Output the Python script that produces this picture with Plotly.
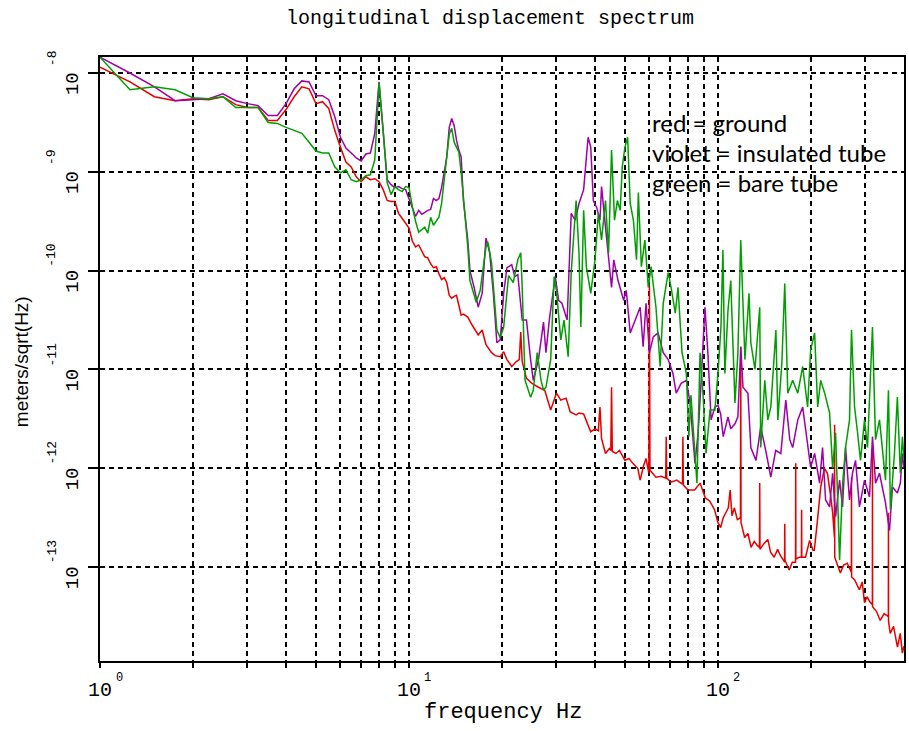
import numpy as np
import plotly.graph_objects as go

# ---------------- data (frequency in Hz, amplitude as log10 of meters/sqrt(Hz)) ----------------
ground_freq_hz = [1.0, 1.25, 1.5, 1.75, 2.0, 2.25, 2.5, 2.75, 3.0, 3.25, 3.5, 3.75, 4.0, 4.25, 4.5, 4.75,
                  5.0, 5.25, 5.5, 5.75, 6.0, 6.25, 6.5, 6.75, 7.0, 7.25, 7.5, 7.75, 8.0, 8.25, 8.5, 8.75,
                  9.0, 9.25, 9.5, 9.75, 10.0, 10.25, 10.5, 10.75, 11.0, 11.25, 11.5, 11.75, 12.0, 12.25,
                  12.5, 12.75, 13.0, 13.25, 13.5, 13.75, 14.0, 14.25, 14.5, 14.75, 15.0, 15.5, 16.0, 16.5,
                  16.75, 17.25, 17.75, 18.5, 19.0, 19.75, 20.25, 20.75, 21.5, 22.25, 22.75, 23.0, 23.25,
                  24.0, 25.0, 26.25, 27.5, 28.75, 30.0, 31.0, 32.25, 33.25, 34.75, 35.5, 36.75, 37.5,
                  38.75, 40.0, 41.0, 41.5, 42.0, 43.25, 44.5, 45.0, 45.25, 45.5, 46.75, 48.0, 50.0, 51.5,
                  53.0, 55.0, 56.0, 57.5, 58.5, 59.75, 60.0, 60.25, 61.5, 63.0, 65.5, 67.75, 68.0, 68.25,
                  70.5, 73.5, 76.75, 77.0, 77.25, 80.0, 84.0, 87.5, 91.0, 94.0, 97.5, 100.0, 102.0, 104.0,
                  106.0, 108.0, 109.5, 111.0, 113.0, 115.5, 118.25, 118.5, 118.75, 122.0, 125.0, 128.0,
                  131.0, 134.0, 136.25, 136.5, 136.75, 141.0, 145.0, 148.0, 152.0, 156.0, 159.0, 164.25,
                  164.5, 164.75, 170.0, 174.0, 178.25, 178.5, 178.75, 183.0, 186.25, 186.5, 186.75, 192.0,
                  198.0, 203.0, 205.0, 210.0, 215.0, 221.0, 226.0, 232.0, 235.0, 238.25, 238.5, 238.75,
                  245.0, 249.0, 255.0, 262.0, 270.25, 270.5, 270.75, 277.0, 287.0, 293.0, 298.0, 304.0,
                  310.0, 316.0, 316.25, 316.5, 326.0, 335.0, 345.0, 356.0, 356.25, 356.5, 361.0, 370.0,
                  381.0, 389.0, 395.0, 400.0]
ground_log10 = [-7.94, -8.09, -8.24, -8.28, -8.26, -8.27, -8.24, -8.32, -8.35, -8.35, -8.48, -8.48, -8.37,
                -8.24, -8.14, -8.16, -8.31, -8.29, -8.36, -8.58, -8.75, -8.90, -8.95, -9.05, -9.10, -9.05,
                -9.08, -9.07, -9.10, -9.18, -9.29, -9.30, -9.30, -9.42, -9.47, -9.52, -9.57, -9.70, -9.76,
                -9.74, -9.80, -9.86, -9.87, -9.93, -9.97, -9.96, -10.03, -10.09, -10.07, -10.12, -10.25,
                -10.28, -10.26, -10.25, -10.35, -10.45, -10.44, -10.47, -10.55, -10.62, -10.65, -10.60,
                -10.75, -10.83, -10.86, -10.87, -10.82, -10.90, -10.97, -10.92, -10.90, -10.62, -10.92,
                -11.09, -11.14, -11.18, -11.21, -11.41, -11.24, -11.31, -11.29, -11.43, -11.46, -11.44,
                -11.45, -11.52, -11.63, -11.60, -11.62, -11.38, -11.70, -11.85, -11.80, -11.82, -11.18,
                -11.83, -11.85, -11.82, -11.92, -11.90, -11.95, -12.00, -12.12, -11.97, -11.90, -12.05,
                -10.15, -12.02, -12.05, -12.09, -12.08, -12.10, -11.68, -12.10, -12.14, -12.12, -12.16,
                -11.68, -12.17, -12.22, -12.22, -12.15, -12.30, -12.33, -12.42, -12.55, -12.60, -12.50,
                -12.45, -12.40, -12.22, -12.48, -12.40, -12.52, -12.50, -10.77, -12.55, -12.70, -12.66,
                -12.80, -12.74, -12.78, -12.80, -12.15, -12.82, -12.76, -12.72, -12.85, -12.90, -12.82,
                -12.88, -12.95, -12.56, -12.93, -13.03, -12.95, -12.95, -11.95, -12.92, -12.90, -12.90,
                -12.42, -12.90, -12.90, -12.73, -12.83, -12.83, -12.52, -12.19, -12.00, -12.05, -12.30,
                -12.45, -12.70, -11.56, -12.90, -13.00, -13.06, -12.98, -12.96, -13.05, -12.09, -13.10,
                -13.13, -13.23, -13.15, -13.36, -13.30, -13.35, -13.38, -11.82, -13.40, -13.45, -13.54,
                -13.47, -13.50, -12.45, -13.55, -13.67, -13.60, -13.81, -13.67, -13.87, -13.80]

insulated_freq_hz = [1.0, 1.25, 1.5, 1.75, 2.0, 2.25, 2.5, 2.75, 3.0, 3.25, 3.5, 3.75, 4.0, 4.25, 4.5, 4.75,
                     5.0, 5.25, 5.5, 5.75, 6.0, 6.25, 6.5, 6.75, 7.0, 7.25, 7.5, 7.75, 8.0, 8.25, 8.5, 8.75,
                     9.0, 9.25, 9.5, 9.75, 10.0, 10.25, 10.5, 10.75, 11.0, 11.25, 11.5, 11.75, 12.0, 12.25,
                     12.5, 12.75, 13.0, 13.25, 13.5, 13.75, 14.0, 14.25, 14.5, 14.75, 15.0, 15.5, 15.75,
                     16.25, 16.75, 17.25, 17.75, 18.0, 18.25, 18.75, 19.25, 19.75, 20.25, 20.75, 21.5, 22.0,
                     22.5, 23.25, 24.0, 24.75, 25.25, 26.25, 27.25, 27.75, 28.5, 29.75, 30.5, 31.25, 32.5,
                     33.5, 34.5, 35.5, 36.75, 38.0, 38.75, 39.5, 40.5, 41.5, 42.0, 43.25, 44.25, 45.25, 46.0,
                     47.5, 49.5, 50.5, 52.0, 54.0, 56.0, 57.25, 58.5, 60.0, 61.75, 64.0, 66.5, 69.0, 71.5,
                     73.25, 76.0, 79.0, 81.25, 84.25, 86.25, 88.0, 90.75, 92.75, 95.0, 97.75, 100.0, 102.0,
                     104.0, 107.75, 110.0, 113.5, 116.0, 118.5, 120.5, 125.0, 127.75, 132.75, 137.5, 142.75,
                     148.25, 153.75, 159.75, 165.75, 170.75, 174.5, 181.25, 188.0, 195.0, 199.5, 205.5,
                     213.25, 218.0, 223.0, 229.75, 235.0, 240.25, 247.5, 253.0, 258.75, 266.5, 272.5, 278.75,
                     287.0, 298.0, 309.25, 316.25, 323.5, 333.25, 348.5, 359.0, 367.0, 380.75, 389.25, 395.25,
                     400.0]
insulated_log10 = [-7.84, -8.00, -8.14, -8.28, -8.27, -8.26, -8.21, -8.28, -8.31, -8.33, -8.43, -8.43, -8.31,
                   -8.16, -8.08, -8.09, -8.23, -8.23, -8.27, -8.44, -8.65, -8.76, -8.81, -8.86, -8.89, -8.82,
                   -8.81, -8.61, -8.09, -8.61, -9.08, -9.13, -9.16, -9.15, -9.17, -9.18, -9.27, -9.35, -9.45,
                   -9.39, -9.43, -9.41, -9.39, -9.38, -9.27, -9.29, -9.27, -9.16, -9.00, -8.85, -8.55, -8.46,
                   -8.53, -8.68, -8.78, -8.85, -9.29, -9.69, -10.00, -10.17, -10.37, -10.23, -9.67, -9.75,
                   -9.82, -10.23, -10.73, -10.70, -10.23, -9.97, -9.94, -10.06, -10.04, -10.50, -10.50,
                   -10.90, -11.11, -10.90, -10.52, -10.83, -10.48, -10.06, -10.30, -10.33, -10.50, -9.42,
                   -9.49, -9.32, -9.18, -8.65, -8.75, -9.29, -9.36, -9.49, -9.15, -9.56, -9.89, -10.17,
                   -9.89, -10.10, -10.30, -10.20, -10.63, -10.50, -10.37, -10.77, -10.33, -10.83, -10.67,
                   -10.63, -10.83, -10.90, -11.04, -11.24, -11.14, -11.11, -11.34, -11.95, -11.64, -11.18,
                   -10.37, -10.83, -11.51, -11.38, -11.36, -11.45, -11.68, -11.48, -11.60, -11.55, -11.48,
                   -10.77, -11.18, -11.24, -11.79, -11.92, -11.58, -11.82, -12.09, -11.82, -11.85, -11.31,
                   -11.71, -11.79, -11.51, -11.38, -11.79, -11.99, -11.85, -12.15, -11.79, -12.32, -12.39,
                   -12.05, -12.49, -12.12, -12.39, -11.79, -12.32, -12.05, -11.92, -12.39, -12.12, -12.29,
                   -11.68, -12.15, -12.05, -12.35, -12.63, -12.19, -12.25, -12.15, -11.85, -12.00]

bare_freq_hz = [1.0, 1.25, 1.5, 1.75, 2.0, 2.25, 2.5, 2.75, 3.0, 3.25, 3.5, 3.75, 4.0, 4.25, 4.5, 4.75,
                5.0, 5.25, 5.5, 5.75, 6.0, 6.25, 6.5, 6.75, 7.0, 7.25, 7.5, 7.75, 8.0, 8.25, 8.5, 8.75,
                9.0, 9.25, 9.5, 9.75, 10.0, 10.25, 10.5, 10.75, 11.0, 11.25, 11.5, 11.75, 12.0, 12.25,
                12.5, 12.75, 13.0, 13.25, 13.5, 13.75, 14.0, 14.25, 14.5, 14.75, 15.0, 15.5, 15.75,
                16.25, 16.5, 17.0, 17.75, 18.0, 18.5, 19.25, 19.75, 20.25, 21.0, 21.75, 22.5, 23.0,
                23.25, 23.75, 24.75, 25.25, 26.0, 26.75, 27.25, 27.75, 28.75, 29.5, 30.0, 31.0, 31.75,
                32.75, 33.5, 34.75, 35.5, 36.0, 36.75, 37.5, 38.75, 40.0, 41.0, 42.0, 43.25, 44.25,
                45.25, 46.25, 47.25, 48.25, 49.0, 50.0, 51.0, 52.0, 53.25, 54.5, 55.25, 56.5, 58.0,
                59.5, 60.75, 63.0, 65.0, 66.5, 69.0, 70.5, 72.75, 74.25, 76.5, 79.0, 80.5, 81.75, 84.25,
                85.5, 87.5, 89.5, 91.5, 94.25, 97.75, 100.0, 102.25, 103.75, 105.25, 107.75, 110.0,
                113.5, 116.0, 118.5, 122.25, 126.0, 127.75, 131.75, 136.5, 137.5, 141.75, 145.0, 148.25,
                154.0, 156.25, 161.0, 164.5, 168.25, 174.5, 181.25, 188.0, 195.0, 199.5, 205.5, 210.25,
                215.0, 221.5, 229.75, 235.0, 240.25, 247.5, 253.0, 258.75, 266.5, 270.5, 276.75, 283.0,
                289.25, 298.0, 304.75, 316.25, 323.5, 333.25, 340.75, 348.5, 356.25, 361.5, 372.5,
                380.75, 389.25, 395.25, 400.0]
bare_log10 = [-7.84, -8.17, -8.14, -8.17, -8.25, -8.26, -8.24, -8.35, -8.35, -8.35, -8.50, -8.51, -8.55,
              -8.58, -8.61, -8.70, -8.79, -8.81, -8.81, -8.95, -9.01, -8.98, -9.08, -9.10, -9.08, -9.04,
              -9.03, -8.88, -8.10, -8.58, -9.11, -9.23, -9.15, -9.18, -9.20, -9.15, -9.16, -9.35, -9.50,
              -9.61, -9.58, -9.56, -9.62, -9.46, -9.54, -9.50, -9.46, -9.32, -9.05, -8.85, -8.62, -8.56,
              -8.70, -8.75, -8.80, -9.00, -9.26, -9.76, -10.10, -10.25, -10.32, -10.20, -9.76, -9.71,
              -9.92, -10.60, -10.68, -10.57, -10.05, -10.12, -9.89, -9.82, -10.17, -11.11, -11.28, -11.21,
              -10.83, -11.11, -11.21, -11.18, -10.90, -10.06, -10.20, -10.70, -10.50, -10.87, -10.02,
              -9.29, -9.82, -10.57, -9.39, -9.96, -10.23, -9.89, -9.42, -9.69, -9.29, -9.82, -8.78,
              -9.49, -9.29, -9.39, -8.95, -8.75, -8.65, -9.32, -9.49, -9.89, -9.21, -9.96, -9.69,
              -10.17, -9.96, -10.37, -10.97, -10.33, -10.02, -10.17, -10.43, -10.17, -10.83, -11.04,
              -11.68, -11.26, -11.85, -12.15, -10.83, -11.26, -11.85, -11.41, -11.41, -11.04, -10.57,
              -9.79, -11.04, -10.40, -10.10, -11.34, -10.83, -9.69, -10.90, -10.23, -10.73, -11.00,
              -10.37, -11.79, -11.11, -11.51, -11.38, -10.60, -11.51, -10.93, -10.13, -11.24, -11.11,
              -11.24, -10.97, -11.38, -10.80, -10.63, -11.38, -11.11, -11.24, -11.44, -12.00, -11.64,
              -12.93, -12.17, -11.79, -11.51, -10.60, -11.38, -11.64, -11.92, -11.51, -11.79, -10.57,
              -11.71, -11.51, -11.85, -12.12, -11.21, -12.42, -11.85, -11.28, -12.05, -11.68, -11.90]

x_tick_vals = [1, 2, 3, 4, 5, 6, 7, 8, 9, 10, 20, 30, 40, 50, 60, 70, 80, 90, 100, 200, 300]
x_label_decades = [0, 1, 2]
y_label_decades = [-8, -9, -10, -11, -12, -13]
legend_lines = ["red = ground", "violet = insulated tube", "green = bare tube"]

# ---------------- figure ----------------
W, H = 909, 731
L, R, T, B = 100, 3, 57, 70
PW, PH = W - L - R, H - T - B


def px(xp):
    return (xp - L) / PW


def py(yp):
    return (H - B - yp) / PH


mono = "Liberation Mono, Courier New, monospace"

fig = go.Figure()
fig.add_trace(go.Scatter(x=ground_freq_hz, y=np.power(10.0, ground_log10), mode="lines",
                         line=dict(color="#e60000", width=1.5), name="ground"))
fig.add_trace(go.Scatter(x=insulated_freq_hz, y=np.power(10.0, insulated_log10), mode="lines",
                         line=dict(color="#a000a8", width=1.5), name="insulated tube"))
fig.add_trace(go.Scatter(x=bare_freq_hz, y=np.power(10.0, bare_log10), mode="lines",
                         line=dict(color="#009e00", width=1.5), name="bare tube"))

annotations = []
# title
annotations.append(dict(text="longitudinal displacement spectrum", x=px(491), y=py(18), xref="paper",
                        yref="paper", showarrow=False, font=dict(family=mono, size=20, color="black"),
                        xanchor="center", yanchor="middle"))
# x label
annotations.append(dict(text="frequency Hz", x=px(504), y=py(712), xref="paper", yref="paper",
                        showarrow=False, font=dict(family=mono, size=22, color="black"),
                        xanchor="center", yanchor="middle"))
# y label
annotations.append(dict(text="meters/sqrt(Hz)", x=px(21), y=py(362), xref="paper", yref="paper",
                        showarrow=False, textangle=-90,
                        font=dict(family="Liberation Sans Narrow, Liberation Sans, Arial", size=19,
                                  color="black"), xanchor="center", yanchor="middle"))
# x tick labels
for d in x_label_decades:
    annotations.append(dict(text="10", x=d, y=py(690), xref="x", yref="paper", showarrow=False,
                            font=dict(family=mono, size=20, color="black"), xanchor="center",
                            yanchor="middle"))
    annotations.append(dict(text=str(d), x=d, y=py(678), xref="x", yref="paper", showarrow=False,
                            xshift=19, font=dict(family=mono, size=12, color="black"),
                            xanchor="center", yanchor="middle"))
# y tick labels (rotated)
for d in y_label_decades:
    annotations.append(dict(text="10", x=px(73), y=d, xref="paper", yref="y", showarrow=False,
                            yshift=-11, textangle=-90, font=dict(family=mono, size=19, color="black"),
                            xanchor="center", yanchor="middle"))
    annotations.append(dict(text=str(d), x=px(52), y=d, xref="paper", yref="y", showarrow=False,
                            yshift=15, textangle=-90, font=dict(family=mono, size=13, color="black"),
                            xanchor="center", yanchor="middle"))
# in-plot legend text
for i, t in enumerate(legend_lines):
    annotations.append(dict(text=t, x=px(651), y=py(122 + 30 * i), xref="paper", yref="paper",
                            showarrow=False, font=dict(family="Lato, Open Sans, sans-serif", size=24,
                                                       color="black"),
                            xanchor="left", yanchor="middle"))

fig.update_layout(
    width=W, height=H,
    margin=dict(l=L, r=R, t=T, b=B),
    paper_bgcolor="white", plot_bgcolor="white",
    showlegend=False,
    annotations=annotations,
)
fig.update_xaxes(type="log", range=[0, np.log10(400)], tickvals=x_tick_vals, showticklabels=False,
                 ticks="outside", ticklen=5, tickwidth=1.5, tickcolor="black",
                 showgrid=True, gridcolor="black", gridwidth=1.5, griddash="5px,4px",
                 showline=True, linecolor="black", linewidth=2, mirror=True, zeroline=False)
fig.update_yaxes(type="log", range=[-13.95, -7.838], tickvals=[10.0 ** d for d in y_label_decades],
                 showticklabels=False, ticks="outside", ticklen=10, tickwidth=1.5, tickcolor="black",
                 showgrid=True, gridcolor="black", gridwidth=1.5, griddash="5px,4px",
                 showline=True, linecolor="black", linewidth=2, mirror=True, zeroline=False)

fig.write_html("out.html", config={"displayModeBar": False},
               post_script="document.body.style.margin='0';")
